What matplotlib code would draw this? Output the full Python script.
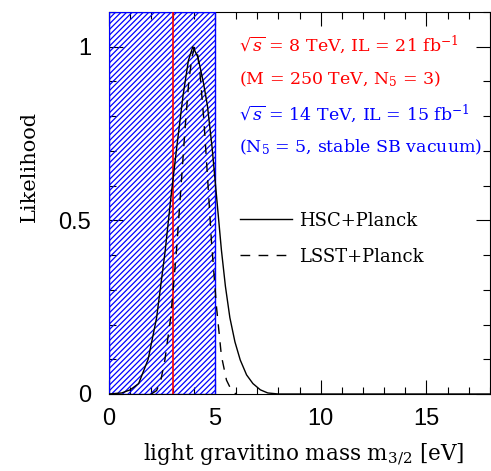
import matplotlib
matplotlib.use("Agg")
import matplotlib.pyplot as plt
from matplotlib.ticker import MultipleLocator

# ---------------------------
# data
# ---------------------------
hsc_mass = [0.0, 0.6, 1.0, 1.4, 1.85, 2.25, 2.65, 2.95, 3.2, 3.5, 3.75, 3.96,
            4.2, 4.45, 4.65, 4.87, 5.05, 5.31, 5.5, 5.71, 5.95, 6.2, 6.5,
            6.8, 7.15, 7.5, 8.0, 18.0]
hsc_like = [0.0, 0.003, 0.012, 0.03, 0.10, 0.22, 0.41, 0.58, 0.71, 0.86, 0.96, 1.0,
            0.97, 0.90, 0.83, 0.71, 0.59, 0.415, 0.31, 0.22, 0.15, 0.098, 0.055,
            0.03, 0.012, 0.003, 0.0, 0.0]

lsst_mass = [2.0, 2.25, 2.45, 2.64, 2.92, 3.19, 3.44, 3.6, 3.77, 3.92, 4.05,
             4.18, 4.29, 4.48, 4.66, 4.84, 5.08, 5.31, 5.55, 5.79, 6.0]
lsst_like = [0.0, 0.01, 0.04, 0.098, 0.223, 0.415, 0.63, 0.77, 0.90, 0.97, 1.0,
             0.98, 0.93, 0.79, 0.62, 0.44, 0.25, 0.11, 0.04, 0.01, 0.0]

m_8tev = 3.0          # red line, sqrt(s)=8 TeV
m_14tev_max = 5.0     # blue hatched region, sqrt(s)=14 TeV

serif = "DejaVu Serif"
plt.rcParams["mathtext.fontset"] = "dejavuserif"
plt.rcParams["hatch.linewidth"] = 0.9

fig = plt.figure(figsize=(4.91, 4.71), dpi=100)
ax = fig.add_axes([109 / 491, 77 / 471, 381 / 491, 382 / 471])

ax.axvspan(0, m_14tev_max, facecolor="none", edgecolor="blue", hatch="//////",
           linewidth=1.0, zorder=3)
ax.axvline(m_8tev, color="red", lw=1.2, zorder=4)

ax.plot(hsc_mass, hsc_like, color="black", lw=1.0, label="HSC+Planck", zorder=5)
ax.plot(lsst_mass, lsst_like, color="black", lw=1.0, dashes=(7, 6),
        label="LSST+Planck", zorder=5)

ax.set_xlim(0, 18)
ax.set_ylim(0, 1.1)
ax.xaxis.set_major_locator(MultipleLocator(5))
ax.xaxis.set_minor_locator(MultipleLocator(1))
ax.yaxis.set_major_locator(MultipleLocator(0.5))
ax.yaxis.set_minor_locator(MultipleLocator(0.1))
ax.set_yticks([0, 0.5, 1])
ax.set_yticklabels(["0", "0.5", "1"])
ax.tick_params(which="both", direction="in", top=True, right=True, width=0.8,
               labelsize=17)
ax.tick_params(axis="x", pad=10)
ax.tick_params(axis="y", pad=13)
ax.tick_params(which="major", length=10)
ax.tick_params(which="minor", length=5)
for lab in ax.get_xticklabels() + ax.get_yticklabels():
    lab.set_fontfamily("Liberation Sans")
for s in ax.spines.values():
    s.set_linewidth(0.8)

ax.set_xlabel(r"light gravitino mass m$_{3/2}$ [eV]", family=serif, fontsize=15.5)
ax.set_ylabel("Likelihood", family=serif, fontsize=15)
ax.xaxis.set_label_coords(0.51, -0.125)
ax.yaxis.set_label_coords(-0.185, 0.595)

txt = dict(family=serif, fontsize=12.5, transform=ax.transAxes, va="center")
ax.text(0.34, 0.915, r"$\sqrt{s}$ = 8 TeV, IL = 21 fb$^{-1}$", color="red", **txt)
ax.text(0.34, 0.825, r"(M = 250 TeV, N$_5$ = 3)", color="red", **txt)
ax.text(0.34, 0.735, r"$\sqrt{s}$ = 14 TeV, IL = 15 fb$^{-1}$", color="blue", **txt)
ax.text(0.34, 0.645, r"(N$_5$ = 5, stable SB vacuum)", color="blue", **txt)

ax.legend(loc="upper left", bbox_to_anchor=(0.30, 0.52), frameon=False,
          prop={"family": serif, "size": 13}, handlelength=2.9,
          handletextpad=0.4, labelspacing=1.0)

fig.savefig("out.png", dpi=100)
